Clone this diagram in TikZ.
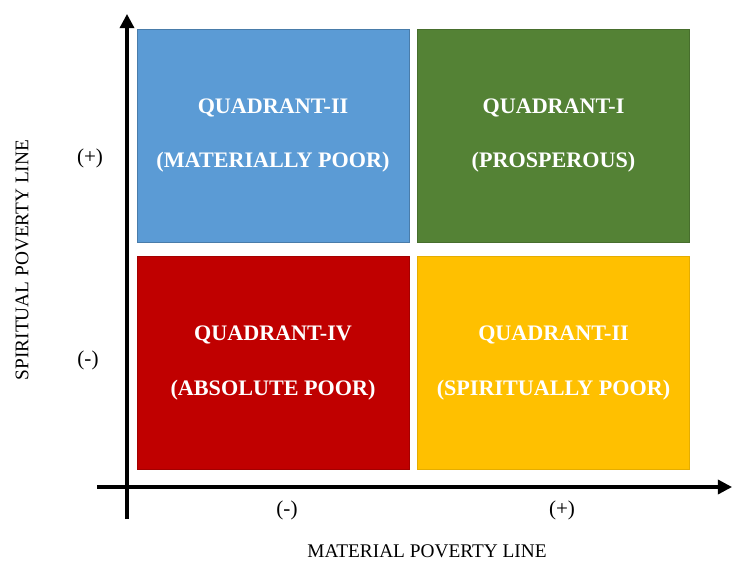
\documentclass[tikz,border=0pt]{standalone}
\usepackage{fontspec}
\setmainfont{Liberation Serif}
\usetikzlibrary{arrows.meta}
\definecolor{qblue}{HTML}{5B9BD5}
\definecolor{qgreen}{HTML}{548235}
\definecolor{qred}{HTML}{C00000}
\definecolor{qgold}{HTML}{FFC000}
\tikzset{
    quad/.style={rectangle, minimum width=5.44cm, minimum height=4.26cm, inner sep=0pt, line width=0.4pt, align=center, text=white, font=\fontsize{12.6}{31}\selectfont\bfseries},
    tick/.style={font=\fontsize{12}{14}\selectfont},
    axislabel/.style={font=\fontsize{11}{13}\selectfont}
}
\begin{document}
\begin{tikzpicture}[x=0.02cm,y=-0.02cm]
            \useasboundingbox (0,0) rectangle (733,561);

            %the four quadrants
            \node[quad, fill=qblue, draw=qblue!80!black] (q2) at (273,135.5) {QUADRANT-II\\(MATERIALLY POOR)};
            \node[quad, fill=qgreen, draw=qgreen!85!black] (q1) at (553.5,135.5) {QUADRANT-I\\(PROSPEROUS)};
            \node[quad, fill=qred, draw=qred!85!black] (q4) at (273,363) {QUADRANT-IV\\(ABSOLUTE POOR)};
            \node[quad, fill=qgold, draw=qgold!90!black] (q3) at (553.5,363) {QUADRANT-II\\(SPIRITUALLY POOR)};

            %axes
            \coordinate (ybot) at (127,519);
            \coordinate (ytop) at (127,14);
            \coordinate (xleft) at (97,487);
            \coordinate (xright) at (732,487);
            \draw[line width=1.8pt, -{Triangle[width=8pt,length=8pt]}] (ybot) -- (ytop);
            \draw[line width=1.8pt, -{Triangle[width=8pt,length=8pt]}] (xleft) -- (xright);

            %signs
            \node[tick] (yplus) at (90,158) {(+)};
            \node[tick] (yminus) at (88,360) {(-)};
            \node[tick] (xminus) at (287,510) {(-)};
            \node[tick] (xplus) at (562,510) {(+)};

            %axis titles
            \node[axislabel, rotate=90] (ytitle) at (22,260) {SPIRITUAL POVERTY LINE};
            \node[axislabel] (xtitle) at (427,551) {MATERIAL POVERTY LINE};
\end{tikzpicture}
\end{document}
